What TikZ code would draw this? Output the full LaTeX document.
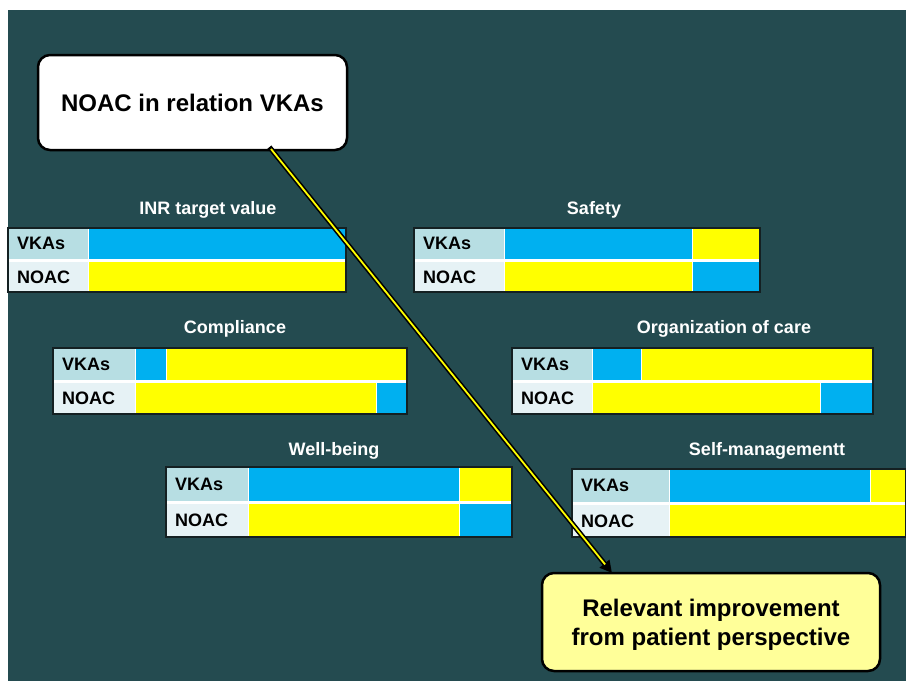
\documentclass[tikz,border=0pt]{standalone}
\usepackage{fontspec}
\setmainfont{Liberation Sans}
\usetikzlibrary{arrows.meta}
\definecolor{bgteal}{RGB}{36,75,80}
\definecolor{barblue}{RGB}{0,176,240}
\definecolor{baryellow}{RGB}{255,255,0}
\definecolor{lblA}{RGB}{183,222,227}
\definecolor{lblB}{RGB}{230,242,245}
\definecolor{boxyellow}{RGB}{255,255,153}
\definecolor{tbline}{RGB}{20,32,34}
\tikzset{
  rowlbl/.style={anchor=base west, inner sep=0pt, text=black, font=\fontsize{18}{20}\selectfont\bfseries},
  ttl/.style={anchor=base, inner sep=0pt, text=white, font=\fontsize{18}{20}\selectfont\bfseries},
  tbord/.style={draw=tbline, line width=1.2pt},
  callout/.style={draw=black, line width=2.5pt, rounded corners=12pt, inner sep=0pt, align=center, text=black, font=\fontsize{24}{29}\selectfont\bfseries},
}
% #1 id, #2 L, #3 M, #4 R, #5 T, #6 B, #7 title x, #8 title baseline, #9 title
\newcommand\bartab[9]{%
  \pgfmathsetmacro\tbmid{(#5+#6)/2}%
  \pgfmathsetmacro\tbra{\tbmid-1.5}%
  \pgfmathsetmacro\tbrb{\tbmid+1.5}%
  \fill[lblA] (#2,#5) rectangle (#3,\tbmid);
  \fill[lblB] (#2,\tbmid) rectangle (#3,#6);
  \draw[white, line width=0.8pt] (#3,#5) -- (#3,#6);
  \draw[white, line width=3pt] (#2,\tbmid) -- (#4,\tbmid);
  \draw[tbord] (#2,#5) rectangle (#4,#6);
  \node[rowlbl] (#1v) at ({#2+9},{(#5+\tbra)/2+6.5}) {VKAs};
  \node[rowlbl] (#1n) at ({#2+9},{(\tbrb+#6)/2+6.5}) {NOAC};
  \node[ttl] (#1t) at (#7,#8) {#9};
}
\begin{document}
\begin{tikzpicture}[x=1pt,y=-1pt]
\fill[white] (0,0) rectangle (906,681);
\useasboundingbox (0,0) rectangle (906,681);
\fill[bgteal] (8,10) rectangle (906,681);

% Table 1: INR target value
\fill[barblue] (88,228) rectangle (346,260);
\fill[baryellow] (88,260) rectangle (346,292);
\bartab{ta}{8}{88}{346}{228}{292}{208}{214}{INR target value}

% Table 2: Safety
\fill[barblue] (504,228) rectangle (692,260);
\fill[baryellow] (692,228) rectangle (760,260);
\fill[baryellow] (504,260) rectangle (692,292);
\fill[barblue] (692,260) rectangle (760,292);
\draw[white, line width=0.8pt] (692,228) -- (692,292);
\bartab{tb}{414}{504}{760}{228}{292}{594}{214}{Safety}

% Table 3: Compliance
\fill[barblue] (135,348) rectangle (166,381);
\fill[baryellow] (166,348) rectangle (407,381);
\fill[baryellow] (135,381) rectangle (376,414);
\fill[barblue] (376,381) rectangle (407,414);
\draw[white, line width=0.8pt] (166,348) -- (166,381);
\draw[white, line width=0.8pt] (376,381) -- (376,414);
\bartab{tc}{53}{135}{407}{348}{414}{235}{333}{Compliance}

% Table 4: Organization of care
\fill[barblue] (592,348) rectangle (641,381);
\fill[baryellow] (641,348) rectangle (873,381);
\fill[baryellow] (592,381) rectangle (820,414);
\fill[barblue] (820,381) rectangle (873,414);
\draw[white, line width=0.8pt] (641,348) -- (641,381);
\draw[white, line width=0.8pt] (820,381) -- (820,414);
\bartab{td}{512}{592}{873}{348}{414}{724}{333}{Organization of care}

% Table 5: Well-being
\fill[barblue] (248,467) rectangle (459,502);
\fill[baryellow] (459,467) rectangle (512,502);
\fill[baryellow] (248,502) rectangle (459,537);
\fill[barblue] (459,502) rectangle (512,537);
\draw[white, line width=0.8pt] (459,467) -- (459,537);
\bartab{te}{166}{248}{512}{467}{537}{334}{455}{Well-being}

% Table 6: Self-managementt
\fill[barblue] (669,469) rectangle (870,503);
\fill[baryellow] (870,469) rectangle (906,503);
\fill[baryellow] (669,503) rectangle (906,537);
\draw[white, line width=0.8pt] (870,469) -- (870,503);
\bartab{tf}{572}{669}{906}{469}{537}{767}{455}{Self-managementt}

% Callout boxes
\node[callout, fill=white, minimum width=309pt, minimum height=95pt] (top) at (192.5,102.5) {NOAC in relation VKAs};
\node[callout, fill=boxyellow, minimum width=338pt, minimum height=98pt, text depth=0pt] (bot) at (711,622) {Relevant improvement\\from patient perspective};

% Connector
\coordinate (s) at (271,149);
\coordinate (e) at (612,573);
\draw[black, line width=5pt, line cap=rect, -{Triangle[length=12pt,width=12pt]}] (s) -- (e);
\draw[baryellow, line width=1.8pt, shorten >=11pt] (s) -- (e);
\end{tikzpicture}
\end{document}
